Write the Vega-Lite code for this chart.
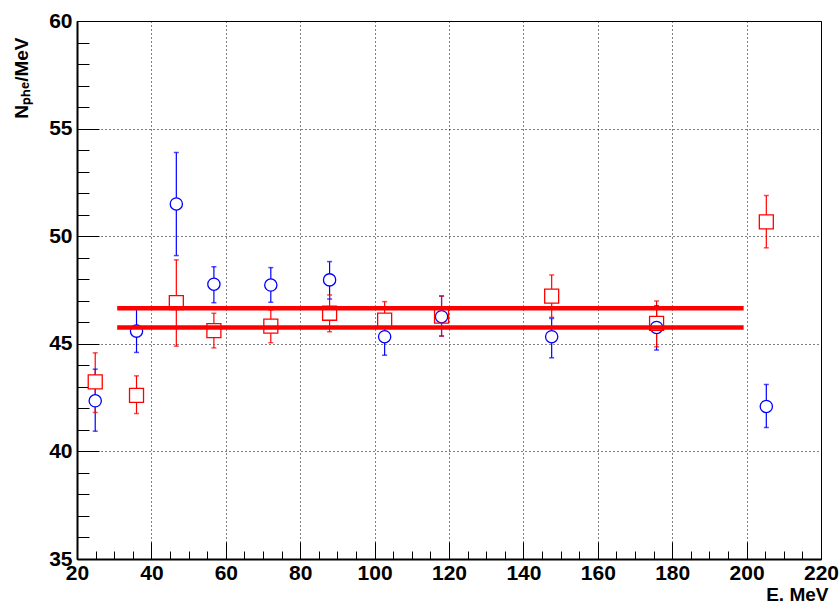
{
  "$schema": "https://vega.github.io/schema/vega-lite/v6.json",
  "width": 744,
  "height": 538,
  "autosize": {"type": "none"},
  "padding": {"left": 77, "top": 21, "right": 18, "bottom": 45},
  "background": "white",
  "config": {
    "view": {"stroke": "black", "strokeWidth": 1},
    "font": "Liberation Sans"
  },
  "datasets": {
    "pts": [
      {"E": 24.9, "N": 42.35, "lo": 40.94, "hi": 43.82, "set": "A"},
      {"E": 24.9, "N": 43.23, "lo": 41.81, "hi": 44.58, "set": "B"},
      {"E": 36.0, "N": 45.59, "lo": 44.60, "hi": 46.65, "set": "A"},
      {"E": 36.0, "N": 42.60, "lo": 41.76, "hi": 43.51, "set": "B"},
      {"E": 46.7, "N": 51.50, "lo": 49.10, "hi": 53.89, "set": "A"},
      {"E": 46.7, "N": 46.91, "lo": 44.89, "hi": 48.90, "set": "B"},
      {"E": 56.8, "N": 47.77, "lo": 46.91, "hi": 48.58, "set": "A"},
      {"E": 56.8, "N": 45.61, "lo": 44.81, "hi": 46.42, "set": "B"},
      {"E": 72.1, "N": 47.73, "lo": 46.93, "hi": 48.54, "set": "A"},
      {"E": 72.1, "N": 45.82, "lo": 45.05, "hi": 46.57, "set": "B"},
      {"E": 87.9, "N": 47.97, "lo": 47.08, "hi": 48.82, "set": "A"},
      {"E": 87.9, "N": 46.42, "lo": 45.56, "hi": 47.27, "set": "B"},
      {"E": 102.7, "N": 45.33, "lo": 44.47, "hi": 46.15, "set": "A"},
      {"E": 102.7, "N": 46.10, "lo": 45.22, "hi": 46.96, "set": "B"},
      {"E": 118.0, "N": 46.26, "lo": 45.36, "hi": 47.22, "set": "A"},
      {"E": 118.0, "N": 46.29, "lo": 45.36, "hi": 47.22, "set": "B"},
      {"E": 147.6, "N": 45.33, "lo": 44.35, "hi": 46.18, "set": "A"},
      {"E": 147.6, "N": 47.22, "lo": 46.23, "hi": 48.20, "set": "B"},
      {"E": 175.8, "N": 45.76, "lo": 44.71, "hi": 46.77, "set": "A"},
      {"E": 175.8, "N": 45.95, "lo": 44.86, "hi": 46.99, "set": "B"},
      {"E": 205.3, "N": 42.09, "lo": 41.11, "hi": 43.11, "set": "A"},
      {"E": 205.3, "N": 50.67, "lo": 49.46, "hi": 51.89, "set": "B"}
    ],
    "fit": [
      {"E": 30.8, "N": 46.65, "fit": "upper"},
      {"E": 199.2, "N": 46.65, "fit": "upper"},
      {"E": 30.8, "N": 45.76, "fit": "lower"},
      {"E": 199.2, "N": 45.76, "fit": "lower"}
    ]
  },
  "encoding": {
    "x": {
      "field": "E",
      "type": "quantitative",
      "scale": {"domain": [20, 220], "nice": false, "zero": false},
      "axis": {
        "title": "E. MeV",
        "values": [20,25,30,35,40,45,50,55,60,65,70,75,80,85,90,95,100,105,110,115,120,125,130,135,140,145,150,155,160,165,170,175,180,185,190,195,200,205,210,215,220],
        "labelExpr": "datum.value % 20 === 0 ? datum.label : ''",
        "labelOverlap": false,
        "labelFlush": false,
        "labelFont": "Liberation Sans",
        "labelFontWeight": "bold",
        "labelFontSize": 21,
        "labelColor": "black",
        "labelPadding": 20,
        "tickColor": "black",
        "tickWidth": 1,
        "tickSize": {"condition": {"test": "datum.value % 20 === 0", "value": -17}, "value": -8},
        "grid": true,
        "gridColor": "black",
        "gridDash": [1, 3],
        "gridWidth": 1,
        "gridOpacity": {"condition": {"test": "datum.value % 20 === 0", "value": 1}, "value": 0},
        "domainColor": "black",
        "domainWidth": 2,
        "titleFont": "Liberation Sans",
        "titleFontWeight": "bold",
        "titleFontSize": 19,
        "titleColor": "black",
        "titleAnchor": "end",
        "titleAlign": "right",
        "titleBaseline": "alphabetic",
        "titleX": 751,
        "titleY": 41
      }
    }
  },
  "layer": [
    {
      "data": {"name": "pts"},
      "mark": {"type": "rule", "strokeWidth": 1.2},
      "encoding": {
        "y": {"field": "lo", "type": "quantitative", "scale": {"domain": [35, 60], "nice": false, "zero": false},
          "axis": {
            "title": "Nₚₕₑ/MeV",
            "values": [35,36,37,38,39,40,41,42,43,44,45,46,47,48,49,50,51,52,53,54,55,56,57,58,59,60],
            "labelExpr": "datum.value % 5 === 0 ? datum.label : ''",
            "labelOverlap": false,
            "labelFlush": false,
            "labelFont": "Liberation Sans",
            "labelFontWeight": "bold",
            "labelFontSize": 21,
            "labelColor": "black",
            "labelPadding": 27,
            "tickColor": "black",
            "tickWidth": 1,
            "tickSize": {"condition": {"test": "datum.value % 5 === 0", "value": -22}, "value": -12},
            "grid": true,
            "gridColor": "black",
            "gridDash": [1, 3],
            "gridWidth": 1,
            "gridOpacity": {"condition": {"test": "datum.value % 5 === 0", "value": 1}, "value": 0},
            "domainColor": "black",
            "domainWidth": 2,
            "titleFont": "Liberation Sans",
            "titleFontWeight": "bold",
            "titleFontSize": 19,
            "titleColor": "black",
            "titleAngle": 270,
            "titleAnchor": "end",
            "titleAlign": "right",
            "titleBaseline": "alphabetic",
            "titleX": -50,
            "titleY": 16
          }
        },
        "y2": {"field": "hi"},
        "color": {"field": "set", "type": "nominal", "scale": {"domain": ["A", "B"], "range": ["#0000ff", "#ff0000"]}, "legend": null}
      }
    },
    {
      "data": {"name": "pts"},
      "mark": {"type": "tick", "orient": "horizontal", "size": 5, "thickness": 1.5},
      "encoding": {
        "y": {"field": "lo", "type": "quantitative", "scale": {"domain": [35, 60], "nice": false, "zero": false},
          "axis": {
            "title": "Nₚₕₑ/MeV",
            "values": [35,36,37,38,39,40,41,42,43,44,45,46,47,48,49,50,51,52,53,54,55,56,57,58,59,60],
            "labelExpr": "datum.value % 5 === 0 ? datum.label : ''",
            "labelOverlap": false,
            "labelFlush": false,
            "labelFont": "Liberation Sans",
            "labelFontWeight": "bold",
            "labelFontSize": 21,
            "labelColor": "black",
            "labelPadding": 27,
            "tickColor": "black",
            "tickWidth": 1,
            "tickSize": {"condition": {"test": "datum.value % 5 === 0", "value": -22}, "value": -12},
            "grid": true,
            "gridColor": "black",
            "gridDash": [1, 3],
            "gridWidth": 1,
            "gridOpacity": {"condition": {"test": "datum.value % 5 === 0", "value": 1}, "value": 0},
            "domainColor": "black",
            "domainWidth": 2,
            "titleFont": "Liberation Sans",
            "titleFontWeight": "bold",
            "titleFontSize": 19,
            "titleColor": "black",
            "titleAngle": 270,
            "titleAnchor": "end",
            "titleAlign": "right",
            "titleBaseline": "alphabetic",
            "titleX": -50,
            "titleY": 16
          }
        },
        "color": {"field": "set", "type": "nominal", "scale": {"domain": ["A", "B"], "range": ["#0000ff", "#ff0000"]}, "legend": null}
      }
    },
    {
      "data": {"name": "pts"},
      "mark": {"type": "tick", "orient": "horizontal", "size": 5, "thickness": 1.5},
      "encoding": {
        "y": {"field": "hi", "type": "quantitative", "scale": {"domain": [35, 60], "nice": false, "zero": false},
          "axis": {
            "title": "Nₚₕₑ/MeV",
            "values": [35,36,37,38,39,40,41,42,43,44,45,46,47,48,49,50,51,52,53,54,55,56,57,58,59,60],
            "labelExpr": "datum.value % 5 === 0 ? datum.label : ''",
            "labelOverlap": false,
            "labelFlush": false,
            "labelFont": "Liberation Sans",
            "labelFontWeight": "bold",
            "labelFontSize": 21,
            "labelColor": "black",
            "labelPadding": 27,
            "tickColor": "black",
            "tickWidth": 1,
            "tickSize": {"condition": {"test": "datum.value % 5 === 0", "value": -22}, "value": -12},
            "grid": true,
            "gridColor": "black",
            "gridDash": [1, 3],
            "gridWidth": 1,
            "gridOpacity": {"condition": {"test": "datum.value % 5 === 0", "value": 1}, "value": 0},
            "domainColor": "black",
            "domainWidth": 2,
            "titleFont": "Liberation Sans",
            "titleFontWeight": "bold",
            "titleFontSize": 19,
            "titleColor": "black",
            "titleAngle": 270,
            "titleAnchor": "end",
            "titleAlign": "right",
            "titleBaseline": "alphabetic",
            "titleX": -50,
            "titleY": 16
          }
        },
        "color": {"field": "set", "type": "nominal", "scale": {"domain": ["A", "B"], "range": ["#0000ff", "#ff0000"]}, "legend": null}
      }
    },
    {
      "data": {"name": "pts"},
      "mark": {"type": "point", "filled": true, "color": "white", "opacity": 1, "strokeWidth": 0},
      "encoding": {
        "y": {"field": "N", "type": "quantitative", "scale": {"domain": [35, 60], "nice": false, "zero": false},
          "axis": {
            "title": "Nₚₕₑ/MeV",
            "values": [35,36,37,38,39,40,41,42,43,44,45,46,47,48,49,50,51,52,53,54,55,56,57,58,59,60],
            "labelExpr": "datum.value % 5 === 0 ? datum.label : ''",
            "labelOverlap": false,
            "labelFlush": false,
            "labelFont": "Liberation Sans",
            "labelFontWeight": "bold",
            "labelFontSize": 21,
            "labelColor": "black",
            "labelPadding": 27,
            "tickColor": "black",
            "tickWidth": 1,
            "tickSize": {"condition": {"test": "datum.value % 5 === 0", "value": -22}, "value": -12},
            "grid": true,
            "gridColor": "black",
            "gridDash": [1, 3],
            "gridWidth": 1,
            "gridOpacity": {"condition": {"test": "datum.value % 5 === 0", "value": 1}, "value": 0},
            "domainColor": "black",
            "domainWidth": 2,
            "titleFont": "Liberation Sans",
            "titleFontWeight": "bold",
            "titleFontSize": 19,
            "titleColor": "black",
            "titleAngle": 270,
            "titleAnchor": "end",
            "titleAlign": "right",
            "titleBaseline": "alphabetic",
            "titleX": -50,
            "titleY": 16
          }
        },
        "shape": {"field": "set", "type": "nominal", "scale": {"domain": ["A", "B"], "range": ["circle", "square"]}, "legend": null},
        "size": {"field": "set", "type": "nominal", "scale": {"domain": ["A", "B"], "range": [150, 196]}, "legend": null}
      }
    },
    {
      "data": {"name": "pts"},
      "mark": {"type": "point", "filled": false, "strokeWidth": 1.3, "opacity": 1},
      "encoding": {
        "y": {"field": "N", "type": "quantitative", "scale": {"domain": [35, 60], "nice": false, "zero": false},
          "axis": {
            "title": "Nₚₕₑ/MeV",
            "values": [35,36,37,38,39,40,41,42,43,44,45,46,47,48,49,50,51,52,53,54,55,56,57,58,59,60],
            "labelExpr": "datum.value % 5 === 0 ? datum.label : ''",
            "labelOverlap": false,
            "labelFlush": false,
            "labelFont": "Liberation Sans",
            "labelFontWeight": "bold",
            "labelFontSize": 21,
            "labelColor": "black",
            "labelPadding": 27,
            "tickColor": "black",
            "tickWidth": 1,
            "tickSize": {"condition": {"test": "datum.value % 5 === 0", "value": -22}, "value": -12},
            "grid": true,
            "gridColor": "black",
            "gridDash": [1, 3],
            "gridWidth": 1,
            "gridOpacity": {"condition": {"test": "datum.value % 5 === 0", "value": 1}, "value": 0},
            "domainColor": "black",
            "domainWidth": 2,
            "titleFont": "Liberation Sans",
            "titleFontWeight": "bold",
            "titleFontSize": 19,
            "titleColor": "black",
            "titleAngle": 270,
            "titleAnchor": "end",
            "titleAlign": "right",
            "titleBaseline": "alphabetic",
            "titleX": -50,
            "titleY": 16
          }
        },
        "color": {"field": "set", "type": "nominal", "scale": {"domain": ["A", "B"], "range": ["#0000ff", "#ff0000"]}, "legend": null},
        "shape": {"field": "set", "type": "nominal", "scale": {"domain": ["A", "B"], "range": ["circle", "square"]}, "legend": null},
        "size": {"field": "set", "type": "nominal", "scale": {"domain": ["A", "B"], "range": [150, 196]}, "legend": null}
      }
    },
    {
      "data": {"name": "fit"},
      "mark": {"type": "line", "color": "#ff0000", "strokeWidth": 4.5},
      "encoding": {
        "y": {"field": "N", "type": "quantitative", "scale": {"domain": [35, 60], "nice": false, "zero": false},
          "axis": {
            "title": "Nₚₕₑ/MeV",
            "values": [35,36,37,38,39,40,41,42,43,44,45,46,47,48,49,50,51,52,53,54,55,56,57,58,59,60],
            "labelExpr": "datum.value % 5 === 0 ? datum.label : ''",
            "labelOverlap": false,
            "labelFlush": false,
            "labelFont": "Liberation Sans",
            "labelFontWeight": "bold",
            "labelFontSize": 21,
            "labelColor": "black",
            "labelPadding": 27,
            "tickColor": "black",
            "tickWidth": 1,
            "tickSize": {"condition": {"test": "datum.value % 5 === 0", "value": -22}, "value": -12},
            "grid": true,
            "gridColor": "black",
            "gridDash": [1, 3],
            "gridWidth": 1,
            "gridOpacity": {"condition": {"test": "datum.value % 5 === 0", "value": 1}, "value": 0},
            "domainColor": "black",
            "domainWidth": 2,
            "titleFont": "Liberation Sans",
            "titleFontWeight": "bold",
            "titleFontSize": 19,
            "titleColor": "black",
            "titleAngle": 270,
            "titleAnchor": "end",
            "titleAlign": "right",
            "titleBaseline": "alphabetic",
            "titleX": -50,
            "titleY": 16
          }
        },
        "detail": {"field": "fit", "type": "nominal"}
      }
    }
  ]
}
